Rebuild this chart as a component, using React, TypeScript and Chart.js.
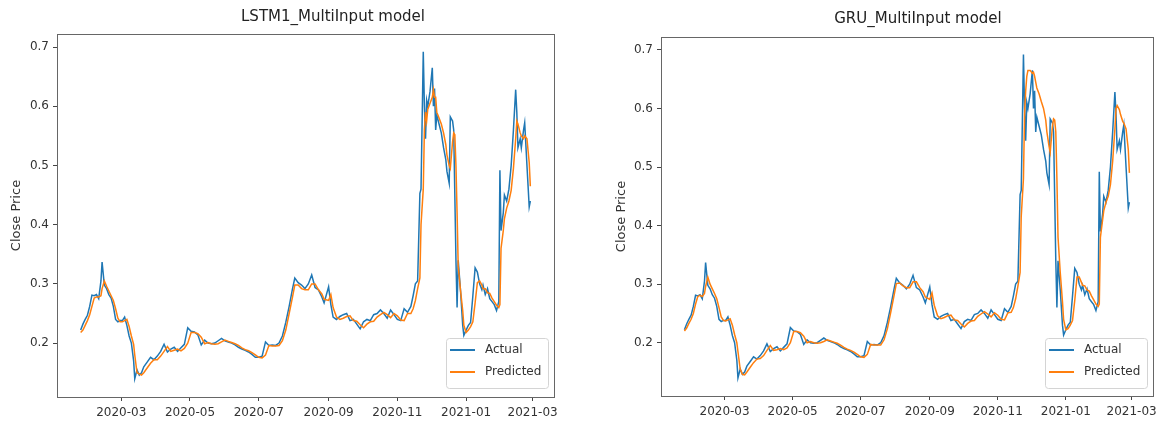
import { useEffect, useRef } from "react";
import { Chart, registerables } from "chart.js";

Chart.register(...registerables);

// Trading days shown (sampled), closing price and the two models' forecasts.
const DATES = [
  "2020-01-25", "2020-01-27", "2020-01-29", "2020-01-31",
  "2020-02-02", "2020-02-04", "2020-02-06", "2020-02-08", "2020-02-10", "2020-02-12", "2020-02-13", "2020-02-15", "2020-02-17", "2020-02-19", "2020-02-21", "2020-02-23", "2020-02-25", "2020-02-27", "2020-02-29",
  "2020-03-02", "2020-03-04", "2020-03-06", "2020-03-08", "2020-03-10", "2020-03-12", "2020-03-13", "2020-03-15", "2020-03-17", "2020-03-19", "2020-03-21", "2020-03-24", "2020-03-27", "2020-03-30",
  "2020-04-02", "2020-04-05", "2020-04-08", "2020-04-11", "2020-04-14", "2020-04-17", "2020-04-20", "2020-04-23", "2020-04-26", "2020-04-29",
  "2020-05-02", "2020-05-05", "2020-05-08", "2020-05-11", "2020-05-14", "2020-05-17", "2020-05-20", "2020-05-23", "2020-05-26", "2020-05-29",
  "2020-06-01", "2020-06-04", "2020-06-07", "2020-06-10", "2020-06-13", "2020-06-16", "2020-06-19", "2020-06-22", "2020-06-25", "2020-06-28",
  "2020-07-01", "2020-07-04", "2020-07-07", "2020-07-10", "2020-07-13", "2020-07-16", "2020-07-19", "2020-07-22", "2020-07-25", "2020-07-28", "2020-07-31",
  "2020-08-02", "2020-08-05", "2020-08-08", "2020-08-11", "2020-08-14", "2020-08-17", "2020-08-20", "2020-08-23", "2020-08-26", "2020-08-28",
  "2020-09-01", "2020-09-03", "2020-09-05", "2020-09-08", "2020-09-11", "2020-09-14", "2020-09-17", "2020-09-20", "2020-09-23", "2020-09-26", "2020-09-29",
  "2020-10-02", "2020-10-05", "2020-10-08", "2020-10-11", "2020-10-14", "2020-10-17", "2020-10-20", "2020-10-23", "2020-10-26", "2020-10-29",
  "2020-11-01", "2020-11-04", "2020-11-07", "2020-11-10", "2020-11-13", "2020-11-15", "2020-11-17", "2020-11-19", "2020-11-21", "2020-11-22", "2020-11-24", "2020-11-25", "2020-11-26", "2020-11-27", "2020-11-28", "2020-11-30",
  "2020-12-02", "2020-12-03", "2020-12-04", "2020-12-05", "2020-12-06", "2020-12-08", "2020-12-10", "2020-12-12", "2020-12-14", "2020-12-15", "2020-12-17", "2020-12-18", "2020-12-20", "2020-12-21", "2020-12-22", "2020-12-23", "2020-12-24", "2020-12-25", "2020-12-27", "2020-12-29", "2020-12-30",
  "2021-01-01", "2021-01-03", "2021-01-05", "2021-01-07", "2021-01-09", "2021-01-11", "2021-01-13", "2021-01-15", "2021-01-16", "2021-01-18", "2021-01-20", "2021-01-22", "2021-01-24", "2021-01-26", "2021-01-28", "2021-01-30", "2021-01-31",
  "2021-02-01", "2021-02-03", "2021-02-04", "2021-02-06", "2021-02-08", "2021-02-10", "2021-02-12", "2021-02-14", "2021-02-15", "2021-02-16", "2021-02-18", "2021-02-19", "2021-02-21", "2021-02-22", "2021-02-24", "2021-02-26", "2021-02-27",
];

const ACTUAL = [
  0.222, 0.232, 0.240, 0.247,
  0.262, 0.281, 0.280, 0.282, 0.275, 0.305, 0.337, 0.298, 0.292, 0.282, 0.276, 0.262, 0.240, 0.236, 0.238,
  0.238, 0.244, 0.230, 0.212, 0.200, 0.170, 0.140, 0.155, 0.146, 0.150, 0.160, 0.168, 0.176, 0.172,
  0.178, 0.186, 0.198, 0.185, 0.190, 0.193, 0.186, 0.192, 0.198, 0.226,
  0.220, 0.219, 0.214, 0.197, 0.205, 0.200, 0.199, 0.200, 0.204, 0.208,
  0.204, 0.202, 0.200, 0.197, 0.193, 0.190, 0.188, 0.185, 0.181, 0.176,
  0.176, 0.178, 0.202, 0.196, 0.197, 0.196, 0.200, 0.212, 0.235, 0.262, 0.292,
  0.310, 0.302, 0.298, 0.292, 0.300, 0.315, 0.294, 0.290, 0.278, 0.268,
  0.295, 0.265, 0.244, 0.240, 0.245, 0.248, 0.250, 0.238, 0.240, 0.232, 0.224,
  0.236, 0.240, 0.238, 0.248, 0.250, 0.256, 0.250, 0.242, 0.256, 0.248,
  0.240, 0.238, 0.258, 0.252, 0.262, 0.280, 0.300, 0.305, 0.453, 0.460, 0.692, 0.600, 0.545, 0.610, 0.600, 0.625,
  0.665, 0.600, 0.630, 0.560, 0.585, 0.570, 0.555, 0.530, 0.510, 0.490, 0.470, 0.582, 0.575, 0.560, 0.450, 0.340, 0.260, 0.340, 0.290, 0.230, 0.213,
  0.222, 0.230, 0.235, 0.280, 0.327, 0.320, 0.300, 0.290, 0.298, 0.282, 0.292, 0.275, 0.270, 0.265, 0.255, 0.270, 0.492,
  0.390, 0.420, 0.450, 0.440, 0.460, 0.500, 0.560, 0.628, 0.590, 0.530, 0.545, 0.530, 0.560, 0.572, 0.500, 0.430, 0.440,
];

const LSTM_PRED = [
  0.218, 0.222, 0.230, 0.238,
  0.248, 0.262, 0.276, 0.278, 0.278, 0.280, 0.292, 0.305, 0.296, 0.288, 0.280, 0.272, 0.258, 0.242, 0.236,
  0.236, 0.238, 0.240, 0.228, 0.212, 0.198, 0.180, 0.150, 0.148, 0.146, 0.150, 0.158, 0.166, 0.172,
  0.172, 0.178, 0.186, 0.194, 0.186, 0.188, 0.190, 0.187, 0.191, 0.200,
  0.218, 0.218, 0.216, 0.210, 0.199, 0.201, 0.199, 0.198, 0.199, 0.202,
  0.205, 0.203, 0.201, 0.199, 0.196, 0.192, 0.189, 0.187, 0.184, 0.180,
  0.176, 0.175, 0.180, 0.196, 0.195, 0.195, 0.196, 0.204, 0.222, 0.250, 0.278,
  0.298, 0.298, 0.292, 0.290, 0.290, 0.300, 0.300, 0.290, 0.283, 0.274,
  0.272, 0.282, 0.260, 0.244, 0.240, 0.242, 0.245, 0.246, 0.238, 0.237, 0.231,
  0.226, 0.232, 0.236, 0.237, 0.244, 0.248, 0.252, 0.248, 0.243, 0.250,
  0.246, 0.239, 0.238, 0.250, 0.250, 0.258, 0.272, 0.292, 0.310, 0.400, 0.460, 0.560, 0.590, 0.575, 0.595, 0.605,
  0.615, 0.628, 0.615, 0.615, 0.590, 0.580, 0.570, 0.555, 0.535, 0.518, 0.500, 0.495, 0.540, 0.555, 0.552, 0.500, 0.420, 0.330, 0.290, 0.255, 0.230,
  0.218, 0.222, 0.228, 0.236, 0.268, 0.302, 0.305, 0.298, 0.292, 0.292, 0.285, 0.284, 0.276, 0.270, 0.264, 0.260, 0.265,
  0.360, 0.390, 0.410, 0.428, 0.440, 0.458, 0.495, 0.545, 0.575, 0.570, 0.555, 0.550, 0.545, 0.550, 0.545, 0.505, 0.465,
];

const GRU_PRED = [
  0.220, 0.225, 0.233, 0.240,
  0.250, 0.266, 0.279, 0.281, 0.279, 0.284, 0.296, 0.312, 0.300, 0.292, 0.284, 0.275, 0.260, 0.244, 0.238,
  0.237, 0.239, 0.241, 0.230, 0.214, 0.200, 0.185, 0.155, 0.146, 0.145, 0.150, 0.158, 0.166, 0.172,
  0.173, 0.178, 0.187, 0.195, 0.187, 0.188, 0.190, 0.188, 0.191, 0.200,
  0.219, 0.219, 0.217, 0.211, 0.200, 0.202, 0.200, 0.199, 0.200, 0.202,
  0.205, 0.203, 0.201, 0.199, 0.196, 0.192, 0.189, 0.187, 0.184, 0.180,
  0.176, 0.175, 0.180, 0.197, 0.196, 0.196, 0.196, 0.205, 0.224, 0.252, 0.281,
  0.301, 0.302, 0.297, 0.294, 0.294, 0.304, 0.304, 0.294, 0.287, 0.278,
  0.274, 0.285, 0.264, 0.246, 0.241, 0.243, 0.246, 0.247, 0.239, 0.238, 0.232,
  0.227, 0.233, 0.237, 0.238, 0.245, 0.249, 0.253, 0.249, 0.244, 0.251,
  0.247, 0.240, 0.239, 0.251, 0.252, 0.260, 0.275, 0.296, 0.320, 0.415, 0.480, 0.590, 0.630, 0.655, 0.665, 0.665,
  0.660, 0.662, 0.655, 0.645, 0.635, 0.625, 0.612, 0.600, 0.580, 0.560, 0.535, 0.525, 0.570, 0.582, 0.580, 0.560, 0.480, 0.380, 0.320, 0.270, 0.240,
  0.222, 0.224, 0.230, 0.238, 0.272, 0.312, 0.312, 0.303, 0.298, 0.297, 0.290, 0.288, 0.280, 0.273, 0.266, 0.262, 0.266,
  0.380, 0.410, 0.425, 0.440, 0.450, 0.470, 0.510, 0.565, 0.600, 0.605, 0.598, 0.590, 0.578, 0.575, 0.565, 0.530, 0.490,
];

const X_TICK_LABELS = ["2020-03", "2020-05", "2020-07", "2020-09", "2020-11", "2021-01", "2021-03"];
const Y_TICKS = [0.2, 0.3, 0.4, 0.5, 0.6, 0.7];
const X_RANGE = ["2020-01-04", "2021-03-20"];
const Y_RANGE = [0.109, 0.722];
const SERIES_NAMES = ["Actual", "Predicted"];
const Y_LABEL = "Close Price";
const TITLES = ["LSTM1_MultiInput model", "GRU_MultiInput model"];

const FONT = "'DejaVu Sans', 'Liberation Sans', sans-serif";
const BLUE = "#1f77b4";
const ORANGE = "#ff7f0e";
const TEXT = "#333333";

// Days since the Unix epoch for "YYYY-MM-DD" or "YYYY-MM" strings.
const dayNum = (s: string) => {
  const [y, m, d] = s.split("-").map(Number);
  return Date.UTC(y, m - 1, d || 1) / 86400000;
};

const tickLabelByDay = new Map(X_TICK_LABELS.map((l) => [dayNum(l), l]));

type PanelLayout = {
  left: number;
  width: number;
  padTop: number;
  padRight: number;
  axisWidth: number;
  axisHeight: number;
  titleX: number;
  titleY: number;
  yTitlePad: number;
  legendRight: number;
  legendBottom: number;
};

const LAYOUTS: PanelLayout[] = [
  { left: 0, width: 580, padTop: 34, padRight: 26, axisWidth: 57, axisHeight: 28, titleX: 333, titleY: 17, yTitlePad: 9, legendRight: 6, legendBottom: 9 },
  { left: 580, width: 582, padTop: 37, padRight: 7, axisWidth: 81, axisHeight: 29, titleX: 338, titleY: 19, yTitlePad: 34, legendRight: 6, legendBottom: 8 },
];

// Frame around the plot area, the in-plot legend and the panel title.
const decorPlugin = {
  id: "decor",
  afterDatasetsDraw(chart: any, _args: any, opts: any) {
    const ctx = chart.ctx as CanvasRenderingContext2D;
    const a = chart.chartArea;
    ctx.save();
    ctx.strokeStyle = "#666666";
    ctx.lineWidth = 1;
    ctx.strokeRect(Math.round(a.left) + 0.5, Math.round(a.top) + 0.5, Math.round(a.right - a.left), Math.round(a.bottom - a.top));

    const w = 102;
    const h = 50;
    const x0 = Math.round(a.right - opts.legendRight - w);
    const y0 = Math.round(a.bottom - opts.legendBottom - h);
    ctx.beginPath();
    ctx.roundRect(x0 + 0.5, y0 + 0.5, w, h, 3);
    ctx.fillStyle = "rgba(255,255,255,0.8)";
    ctx.fill();
    ctx.strokeStyle = "#d4d4d4";
    ctx.stroke();
    chart.data.datasets.forEach((ds: any, i: number) => {
      const ly = y0 + 12 + i * 22;
      ctx.strokeStyle = ds.borderColor;
      ctx.lineWidth = 2;
      ctx.beginPath();
      ctx.moveTo(x0 + 4, ly);
      ctx.lineTo(x0 + 29, ly);
      ctx.stroke();
      ctx.fillStyle = TEXT;
      ctx.font = `12px ${FONT}`;
      ctx.textAlign = "left";
      ctx.textBaseline = "middle";
      ctx.fillText(ds.label, x0 + 39, ly);
    });
    ctx.restore();
  },
  afterDraw(chart: any, _args: any, opts: any) {
    const ctx = chart.ctx as CanvasRenderingContext2D;
    ctx.save();
    ctx.fillStyle = "#222222";
    ctx.font = `15px ${FONT}`;
    ctx.textAlign = "center";
    ctx.textBaseline = "middle";
    ctx.fillText(opts.title, opts.titleX, opts.titleY);
    ctx.restore();
  },
};

function Panel({ layout, title, predicted }: { layout: PanelLayout; title: string; predicted: number[] }) {
  const ref = useRef<HTMLCanvasElement>(null);

  useEffect(() => {
    const xs = DATES.map(dayNum);
    const tickStyle = { color: TEXT, font: { family: FONT, size: 12 } };
    const gridStyle = { display: true, drawOnChartArea: false, drawTicks: true, tickLength: 4, tickColor: "#444444", tickWidth: 1 };

    const chart = new Chart(ref.current as HTMLCanvasElement, {
      type: "line",
      data: {
        datasets: [
          {
            label: SERIES_NAMES[0],
            data: xs.map((x, i) => ({ x, y: ACTUAL[i] })),
            borderColor: BLUE,
            backgroundColor: BLUE,
            borderWidth: 1.5,
            pointRadius: 0,
            tension: 0,
            order: 1,
          },
          {
            label: SERIES_NAMES[1],
            data: xs.map((x, i) => ({ x, y: predicted[i] })),
            borderColor: ORANGE,
            backgroundColor: ORANGE,
            borderWidth: 1.5,
            pointRadius: 0,
            tension: 0,
            order: 0,
          },
        ],
      },
      options: {
        responsive: false,
        animation: false,
        devicePixelRatio: 1,
        layout: { padding: { top: layout.padTop, right: layout.padRight, left: 0, bottom: 0 } },
        scales: {
          x: {
            type: "linear",
            min: dayNum(X_RANGE[0]),
            max: dayNum(X_RANGE[1]),
            afterBuildTicks: (s: any) => {
              s.ticks = X_TICK_LABELS.map((l) => ({ value: dayNum(l) }));
            },
            afterFit: (s: any) => {
              s.height = layout.axisHeight;
            },
            ticks: {
              ...tickStyle,
              autoSkip: false,
              maxRotation: 0,
              padding: 5,
              callback: (v: any) => tickLabelByDay.get(Number(v)) ?? "",
            },
            grid: gridStyle,
            border: { display: false },
          },
          y: {
            type: "linear",
            min: Y_RANGE[0],
            max: Y_RANGE[1],
            afterBuildTicks: (s: any) => {
              s.ticks = Y_TICKS.map((v) => ({ value: v }));
            },
            afterFit: (s: any) => {
              s.width = layout.axisWidth;
            },
            ticks: {
              ...tickStyle,
              padding: 4,
              callback: (v: any) => Number(v).toFixed(1),
            },
            grid: gridStyle,
            border: { display: false },
            title: {
              display: true,
              text: Y_LABEL,
              color: TEXT,
              font: { family: FONT, size: 13 },
              padding: { top: layout.yTitlePad, bottom: 0 },
            },
          },
        },
        plugins: {
          legend: { display: false },
          title: { display: false },
          tooltip: { enabled: false },
          decor: {
            title,
            titleX: layout.titleX,
            titleY: layout.titleY,
            legendRight: layout.legendRight,
            legendBottom: layout.legendBottom,
          },
        } as any,
      },
      plugins: [decorPlugin],
    } as any);

    return () => chart.destroy();
  }, [layout, title, predicted]);

  return (
    <canvas
      ref={ref}
      width={layout.width}
      height={425}
      style={{ position: "absolute", left: layout.left, top: 0, width: layout.width, height: 425, display: "block" }}
    />
  );
}

export default function App() {
  return (
    <div style={{ position: "absolute", left: 0, top: 0, width: 1162, height: 425, background: "#ffffff", overflow: "hidden" }}>
      <Panel layout={LAYOUTS[0]} title={TITLES[0]} predicted={LSTM_PRED} />
      <Panel layout={LAYOUTS[1]} title={TITLES[1]} predicted={GRU_PRED} />
    </div>
  );
}
